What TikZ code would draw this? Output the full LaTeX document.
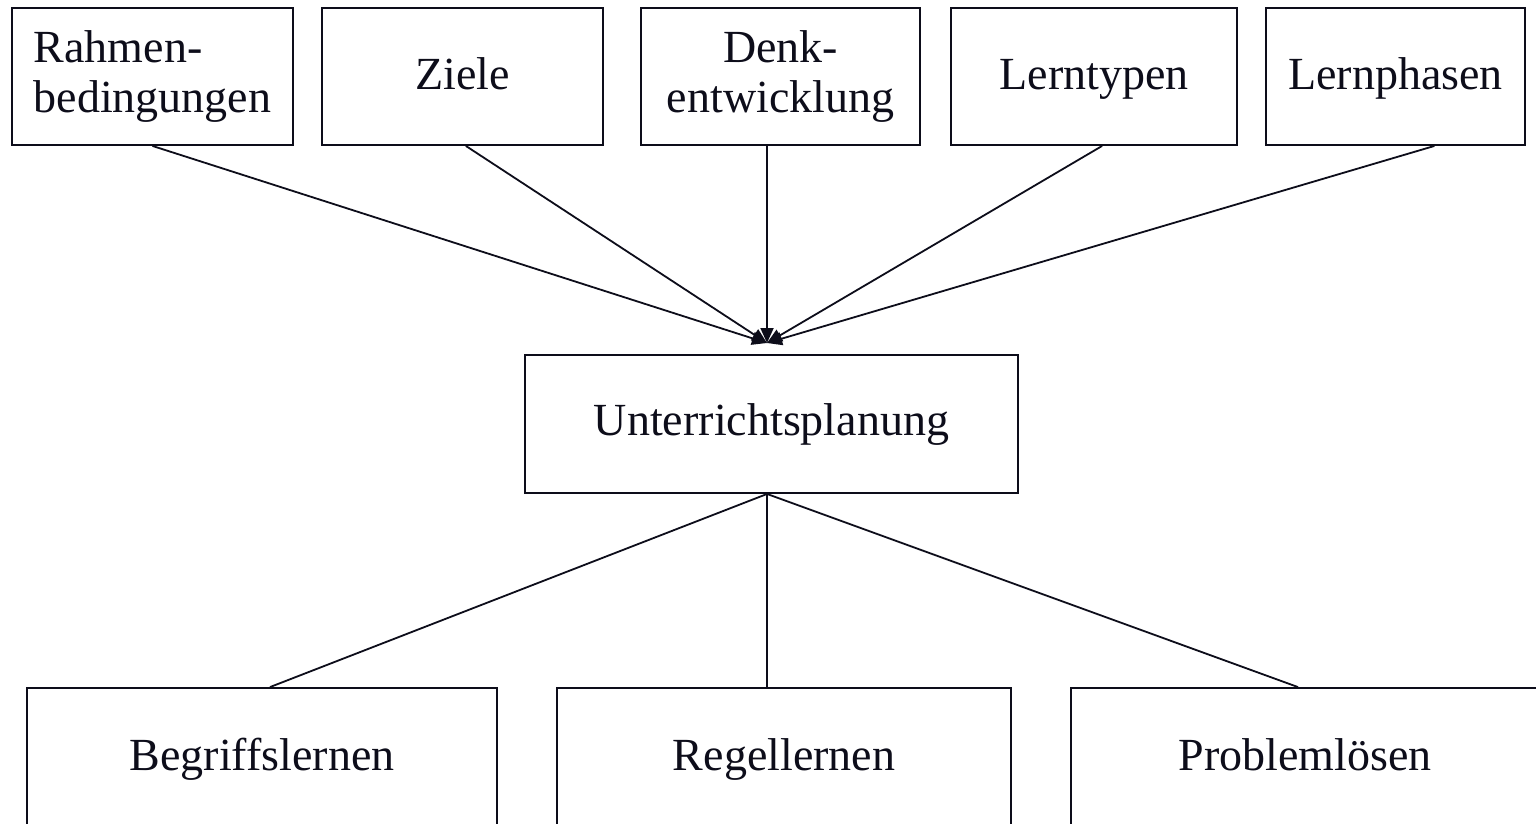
\documentclass[tikz,border=0pt]{standalone}
\usepackage{fontspec}
\setmainfont{Liberation Serif}
\usetikzlibrary{arrows.meta,calc}
\definecolor{ink}{HTML}{0D0D1A}
\begin{document}
\begin{tikzpicture}[x=1pt,y=-1pt,
  box/.style={draw=ink, line width=1.9pt, inner sep=0pt, text=ink,
    font=\fontsize{46}{50}\selectfont},
  topbox/.style={box, minimum height=137pt},
  onebox/.style={topbox, text height=35pt, text depth=10pt},
  lowbox/.style={box, minimum height=164pt, text height=38pt, text depth=38pt},
  conn/.style={draw=ink, line width=1.8pt},
  arr/.style={conn, -{Triangle[length=15pt,width=13pt]}}]
\useasboundingbox (0,0) rectangle (1536,823);
\clip (0,0) rectangle (1536,823);
\fill[white] (0,0) rectangle (1536,823);

\node[topbox, minimum width=281pt, align=left] (rb) at (152.5,76.5) {Rahmen-\\bedingungen};
\node[onebox, minimum width=281pt] (zi) at (462.5,76.5) {Ziele};
\node[topbox, minimum width=279pt, align=center] (de) at (780.5,76.5) {Denk-\\entwicklung};
\node[onebox, minimum width=286pt] (lt) at (1094,76.5) {Lerntypen};
\node[onebox, minimum width=259pt] (lp) at (1395.5,76.5) {Lernphasen};

\node[box, minimum width=493pt, minimum height=138pt] (up) at (771.5,424) {Unterrichtsplanung};

\node[lowbox, minimum width=470pt] (bl) at (262,770) {Begriffslernen};
\node[lowbox, minimum width=454pt] (rl) at (784,770) {Regellernen};
\node[lowbox, minimum width=468pt] (pl) at (1305,770) {Problemlösen};

\coordinate (hub) at (767,343);
\coordinate (ubot) at ($(up.south west)!0.491!(up.south east)$);

\draw[arr] ($(rb.south west)!0.5!(rb.south east)$) -- (hub);
\draw[arr] ($(zi.south west)!0.512!(zi.south east)$) -- (hub);
\draw[arr] (de.south west -| hub) -- (hub);
\draw[arr] ($(lt.south west)!0.528!(lt.south east)$) -- (hub);
\draw[arr] ($(lp.south west)!0.649!(lp.south east)$) -- (hub);

\draw[conn] (ubot) -- ($(bl.north west)!0.517!(bl.north east)$);
\draw[conn] (ubot) -- (rl.north west -| ubot);
\draw[conn] (ubot) -- ($(pl.north west)!0.485!(pl.north east)$);
\end{tikzpicture}
\end{document}
